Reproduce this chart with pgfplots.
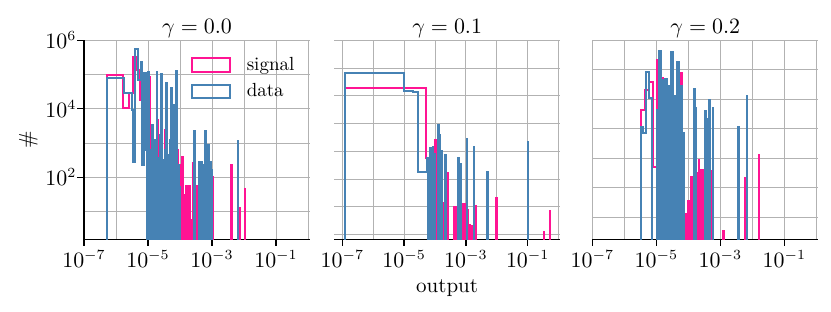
\documentclass[border=0pt]{standalone}
\usepackage{pgfplots}
\usepackage{pgfplotstable}
\pgfplotsset{compat=1.18}
\definecolor{sig}{RGB}{255,20,147}
\definecolor{dat}{RGB}{70,130,180}
\newcommand{\fsz}{\fontsize{10.5}{12.6}\selectfont}
% log10(output)  log10(count); -4 marks an empty bin
\pgfplotstableread{
lx ly
-6.291 -4
-6.291 4.98
-5.772 4.01
-5.584 4.46
-5.459 5.50
-5.384 5.13
-5.250 4.25
-5.172 3.03
-5.041 -4
-4.975 4.93
-4.947 -4
-4.850 3.08
-4.822 -4
-4.766 2.79
-4.738 -4
-4.709 3.67
-4.681 -4
-4.594 2.94
-4.566 -4
-4.469 3.38
-4.441 -4
-4.344 2.45
-4.316 -4
-4.250 3.23
-4.222 -4
-4.156 1.72
-4.128 -4
-4.094 2.79
-4.066 -4
-4.031 2.36
-4.003 -4
-3.938 2.60
-3.910 -4
-3.844 1.48
-3.816 -4
-3.797 1.75
-3.769 -4
-3.750 1.75
-3.722 -4
-3.703 1.75
-3.675 -4
-3.656 0.75
-3.628 -4
-3.609 2.41
-3.581 -4
-3.453 1.75
-3.438 -4
-2.984 2.01
-2.969 -4
-2.397 2.36
-2.382 -4
-2.134 1.11
-2.119 -4
-1.969 1.65
-1.954 -4
}\PoneS
\pgfplotstableread{
lx ly
-6.291 -4
-6.291 4.90
-5.741 4.47
-5.509 3.96
-5.459 2.44
-5.391 5.74
-5.297 4.83
-5.234 5.36
-5.172 2.36
-5.125 5.04
-5.047 2.79
-5.016 -4
-5.000 5.07
-4.972 -4
-4.938 2.79
-4.910 -4
-4.884 3.52
-4.856 -4
-4.828 2.50
-4.800 -4
-4.781 3.08
-4.753 -4
-4.734 5.07
-4.706 -4
-4.678 2.56
-4.650 -4
-4.625 3.23
-4.597 -4
-4.584 5.01
-4.556 -4
-4.531 2.50
-4.503 -4
-4.484 2.79
-4.456 -4
-4.422 4.76
-4.394 -4
-4.366 2.65
-4.338 -4
-4.313 3.08
-4.285 -4
-4.272 4.60
-4.244 -4
-4.219 4.10
-4.191 -4
-4.166 2.50
-4.138 -4
-4.116 5.10
-4.088 -4
-4.063 2.36
-4.035 -4
-4.016 1.72
-3.988 -4
-3.547 3.36
-3.520 -4
-3.391 2.45
-3.363 -4
-3.328 2.44
-3.300 -4
-3.281 2.36
-3.253 -4
-3.203 3.36
-3.175 -4
-3.116 2.94
-3.088 -4
-3.063 2.45
-3.035 -4
-3.016 2.21
-2.988 -4
-2.188 3.06
-2.173 -4
}\PoneB
\pgfplotstableread{
lx ly
-6.913 -4
-6.913 4.27
-4.291 1.75
-4.226 -4
-4.006 2.42
-3.978 -4
-3.958 2.42
-3.930 -4
-3.909 2.42
-3.881 -4
-3.806 1.21
-3.791 -4
-3.757 0.13
-3.729 -4
-3.725 0.13
-3.697 -4
-3.586 1.21
-3.571 -4
-3.385 0.01
-3.357 -4
-3.337 0.01
-3.309 -4
-3.262 1.33
-3.247 -4
-3.117 0.10
-3.089 -4
-3.052 0.10
-3.024 -4
-2.948 -0.11
-2.920 -4
-2.890 -0.67
-2.862 -4
-2.841 -0.69
-2.813 -4
-2.680 0.03
-2.665 -4
-2.016 0.32
-2.001 -4
-0.472 -0.92
-0.457 -4
-0.288 -0.14
-0.273 -4
}\PtwoS
\pgfplotstableread{
lx ly
-6.913 -4
-6.913 4.82
-5.003 4.19
-4.702 4.14
-4.540 1.27
-4.269 1.75
-4.220 -4
-4.178 2.12
-4.150 -4
-4.130 2.12
-4.102 -4
-4.081 2.17
-4.053 -4
-4.039 1.90
-4.011 -4
-3.896 2.96
-3.868 -4
-3.851 2.60
-3.823 -4
-3.812 2.00
-3.784 -4
-3.667 1.87
-3.652 -4
-3.246 1.75
-3.231 -4
-3.171 1.55
-3.156 -4
-2.974 2.44
-2.959 -4
-2.754 2.14
-2.739 -4
-2.307 1.24
-2.292 -4
-0.997 2.33
-0.982 -4
}\PtwoB
\pgfplotstableread{
lx ly
-5.488 -4
-5.488 3.64
-5.353 4.30
-5.228 4.57
-5.113 1.71
-4.988 -4
-4.963 5.34
-4.935 -4
-4.813 4.72
-4.785 -4
-4.713 4.32
-4.685 -4
-4.572 3.30
-4.544 -4
-4.463 3.98
-4.435 -4
-4.384 2.62
-4.356 -4
-4.234 4.89
-4.206 -4
-4.134 0.11
-4.106 -4
-4.088 0.11
-4.060 -4
-4.041 0.11
-4.013 -4
-4.000 0.55
-3.972 -4
-3.953 0.55
-3.925 -4
-3.916 1.37
-3.888 -4
-3.869 1.37
-3.841 -4
-3.806 1.49
-3.778 -4
-3.759 1.49
-3.731 -4
-3.713 1.49
-3.685 -4
-3.681 1.94
-3.653 -4
-3.619 1.60
-3.591 -4
-3.572 1.60
-3.544 -4
-3.525 1.60
-3.497 -4
-3.384 1.57
-3.356 -4
-3.338 1.57
-3.310 -4
-3.291 1.57
-3.263 -4
-2.900 -0.48
-2.885 -4
-2.219 1.34
-2.204 -4
-1.806 2.11
-1.791 -4
}\PthreeS
\pgfplotstableread{
lx ly
-5.478 -4
-5.478 3.05
-5.425 2.87
-5.328 4.91
-5.219 4.04
-5.134 -4
-4.978 3.64
-4.950 -4
-4.931 5.63
-4.903 -4
-4.884 5.63
-4.856 -4
-4.838 4.66
-4.810 -4
-4.791 4.66
-4.763 -4
-4.734 4.69
-4.706 -4
-4.688 4.69
-4.660 -4
-4.634 4.44
-4.606 -4
-4.594 4.10
-4.566 -4
-4.541 5.61
-4.513 -4
-4.494 5.61
-4.466 -4
-4.447 4.10
-4.419 -4
-4.400 3.64
-4.372 -4
-4.353 5.25
-4.325 -4
-4.306 5.25
-4.278 -4
-4.259 3.64
-4.231 -4
-4.213 4.46
-4.185 -4
-4.166 2.87
-4.138 -4
-3.822 4.36
-3.794 -4
-3.775 3.71
-3.747 -4
-3.478 3.59
-3.450 -4
-3.422 3.34
-3.394 -4
-3.344 3.98
-3.329 -4
-3.234 3.70
-3.219 -4
-2.438 3.05
-2.423 -4
-2.172 4.10
-2.157 -4
}\PthreeB
\begin{document}
\begin{tikzpicture}
\useasboundingbox (0,0) rectangle (415.5pt,155.5pt);
% panel 1
\begin{axis}[xmode=log, ymode=log, scale only axis, width=113pt, height=99.5pt,
  at={(42pt,35.85pt)}, anchor=south west,
  axis x line*=bottom, axis y line*=left,
  xtick={1e-7,1e-5,1e-3,1e-1}, minor xtick={1e-6,1e-4,1e-2,1},
  grid=both,
  major grid style={draw=gray!60, line width=0.45pt},
  minor grid style={draw=gray!60, line width=0.45pt},
  tick align=outside, major tick length=3.3pt, minor tick length=0pt,
  tick style={black, line width=0.65pt},
  axis line style={black, line width=0.65pt},
  tick label style={font=\fsz}, title style={font=\fsz, yshift=-8.5pt},
  xticklabel style={yshift=1pt},
  yticklabel style={xshift=3pt},
  ylabel style={font=\fsz}, ylabel shift=-3pt,
  xmin=1e-7, xmax=1.155, ymin=1.55, ymax=1e6,
  ytick={1e2,1e4,1e6}, minor ytick={1e1,1e3,1e5},
  title={$\gamma = 0.0$}, ylabel={\#},
  legend style={draw=none, fill=none, at={(rel axis cs:0.443,0.958)}, anchor=north west,
    row sep=1.2pt, font=\fontsize{9.5}{11}\selectfont},
  legend image post style={xscale=1.12, yscale=1.18},
  legend cell align=left]
\addplot[draw=sig, line width=1pt, const plot mark left, area legend] table[x expr={10^(\thisrow{lx})}, y expr={10^(\thisrow{ly})}] {\PoneS};
\addlegendentry{\hspace{6pt}signal}
\addplot[draw=dat, line width=1pt, const plot mark left, area legend] table[x expr={10^(\thisrow{lx})}, y expr={10^(\thisrow{ly})}] {\PoneB};
\addlegendentry{\hspace{6pt}data}
\end{axis}
% panel 2
\begin{axis}[xmode=log, ymode=log, scale only axis, width=112.85pt, height=99.5pt,
  at={(167.15pt,35.85pt)}, anchor=south west,
  axis x line*=bottom, axis y line*=left,
  xtick={1e-7,1e-5,1e-3,1e-1}, minor xtick={1e-6,1e-4,1e-2,1},
  xmajorgrids=true, xminorgrids=true, ymajorgrids=true, yminorgrids=false,
  major grid style={draw=gray!60, line width=0.45pt},
  minor grid style={draw=gray!60, line width=0.45pt},
  tick align=outside, major tick length=3.3pt, minor tick length=0pt,
  tick style={black, line width=0.65pt},
  axis line style={black, line width=0.65pt},
  tick label style={font=\fsz}, title style={font=\fsz, yshift=-8.5pt},
  xticklabel style={yshift=1pt},
  xlabel style={font=\fsz, yshift=1pt},
  xmin=5.51e-8, xmax=1.109, ymin=0.0676, ymax=1e6,
  ytick={1e-1,1,1e1,1e2,1e3,1e4,1e5,1e6}, yticklabels={},
  y axis line style={draw=none}, ytick style={draw=none},
  title={$\gamma = 0.1$}, xlabel={output}]
\addplot[draw=sig, line width=1pt, const plot mark left] table[x expr={10^(\thisrow{lx})}, y expr={10^(\thisrow{ly})}] {\PtwoS};
\addplot[draw=dat, line width=1pt, const plot mark left] table[x expr={10^(\thisrow{lx})}, y expr={10^(\thisrow{ly})}] {\PtwoB};
\end{axis}
% panel 3
\begin{axis}[xmode=log, ymode=log, scale only axis, width=113pt, height=99.5pt,
  at={(296.15pt,35.85pt)}, anchor=south west,
  axis x line*=bottom, axis y line*=left,
  xtick={1e-7,1e-5,1e-3,1e-1}, minor xtick={1e-6,1e-4,1e-2,1},
  xmajorgrids=true, xminorgrids=true, ymajorgrids=true, yminorgrids=false,
  major grid style={draw=gray!60, line width=0.45pt},
  minor grid style={draw=gray!60, line width=0.45pt},
  tick align=outside, major tick length=3.3pt, minor tick length=0pt,
  tick style={black, line width=0.65pt},
  axis line style={black, line width=0.65pt},
  tick label style={font=\fsz}, title style={font=\fsz, yshift=-8.5pt},
  xticklabel style={yshift=1pt},
  xmin=1e-7, xmax=1.155, ymin=0.176, ymax=1e6,
  ytick={1,1e1,1e2,1e3,1e4,1e5,1e6}, yticklabels={},
  y axis line style={draw=none}, ytick style={draw=none},
  title={$\gamma = 0.2$}]
\addplot[draw=sig, line width=1pt, const plot mark left] table[x expr={10^(\thisrow{lx})}, y expr={10^(\thisrow{ly})}] {\PthreeS};
\addplot[draw=dat, line width=1pt, const plot mark left] table[x expr={10^(\thisrow{lx})}, y expr={10^(\thisrow{ly})}] {\PthreeB};
\end{axis}
\end{tikzpicture}
\end{document}
